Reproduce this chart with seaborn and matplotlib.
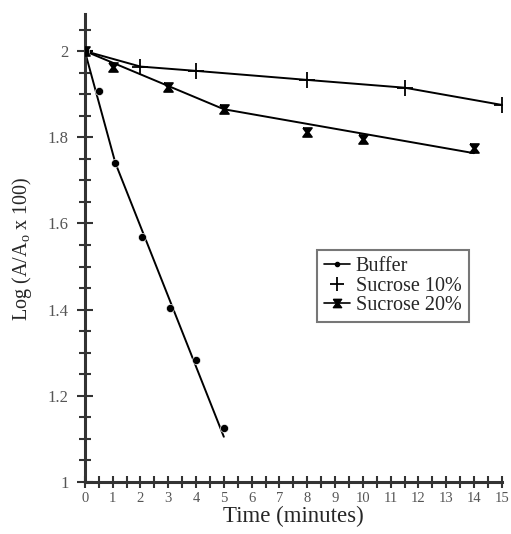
import numpy as np
import pandas as pd
import matplotlib
matplotlib.use("Agg")
import matplotlib.pyplot as plt
from matplotlib.lines import Line2D
import seaborn as sns

sns.set_style("ticks")
plt.rcParams["font.family"] = ["Liberation Serif", "DejaVu Serif"]

# data
buffer_t = [0, 0.5, 1.1, 2.05, 3.05, 4, 5]
buffer_y = [2.0, 1.907, 1.74, 1.568, 1.404, 1.283, 1.125]
buffer_fit_t = [0, 1.1, 5]
buffer_fit_y = [2.0, 1.74, 1.105]

suc10_t = [0, 2, 4, 8, 11.5, 15]
suc10_y = [2.0, 1.964, 1.954, 1.933, 1.915, 1.875]

suc20_t = [0, 1, 3, 5, 8, 10, 14]
suc20_y = [2.0, 1.964, 1.916, 1.865, 1.813, 1.795, 1.774]
suc20_fit_t = [0, 5, 14]
suc20_fit_y = [2.0, 1.865, 1.763]

# hourglass-like marker for Sucrose 20%
hourglass = [(-1, 1), (1, 1), (0.25, 0), (1, -1), (-1, -1), (-0.25, 0), (-1, 1)]

fig = plt.figure(figsize=(5.11, 5.34), dpi=100)
ax = fig.add_axes([0.166, 0.0974, 0.816, 0.8756])

# lines
sns.lineplot(x=buffer_fit_t, y=buffer_fit_y, color="black", lw=1.4, ax=ax)
sns.lineplot(x=suc10_t, y=suc10_y, color="black", lw=1.4, ax=ax, marker="+",
             markersize=11, markeredgewidth=1.3, markeredgecolor="black")
sns.lineplot(x=suc20_fit_t, y=suc20_fit_y, color="black", lw=1.4, ax=ax)

# points
sns.scatterplot(x=buffer_t, y=buffer_y, color="black", s=34, marker="o", ax=ax, zorder=3)
sns.scatterplot(x=suc20_t, y=suc20_y, color="black", s=42, marker=hourglass,
                edgecolor="black", linewidth=1.2, ax=ax, zorder=3)

ax.set_xlim(0, 15)
ax.set_ylim(1, 2.085)
ax.set_xticks(np.arange(0, 16, 1))
ax.set_xticks(np.arange(0, 15.01, 0.5), minor=True)
ax.set_yticks([1, 1.2, 1.4, 1.6, 1.8, 2])
ax.set_yticklabels(["1", "1.2", "1.4", "1.6", "1.8", "2"])
ax.set_yticks(np.arange(1, 2.06, 0.05), minor=True)
ax.tick_params(axis="both", which="both", direction="inout", color="#333333", width=1.5)
ax.tick_params(axis="y", which="major", length=11, labelsize=12, labelcolor="#555555", pad=6)
ax.tick_params(axis="y", which="minor", length=8)
ax.tick_params(axis="x", which="both", length=8, labelsize=10.5, labelcolor="#555555", pad=3)

for side in ["top", "right"]:
    ax.spines[side].set_visible(False)
for side in ["left", "bottom"]:
    ax.spines[side].set_linewidth(2.2)
    ax.spines[side].set_color("#333333")

ax.set_xlabel("Time (minutes)", fontsize=16.5, labelpad=1)
ax.set_ylabel("Log (A/A$_\\mathregular{o}$ x 100)", fontsize=14.5, labelpad=10)

handles = [
    Line2D([], [], color="black", lw=1.2, marker="o", markersize=3),
    Line2D([], [], color="black", lw=0, marker="+", markersize=10, markeredgewidth=1.3),
    Line2D([], [], color="black", lw=1.2, marker=hourglass, markersize=6),
]
leg = ax.legend(handles, ["Buffer", "Sucrose 10%", "Sucrose 20%"],
                loc="upper left", bbox_to_anchor=(0.556, 0.496), fontsize=14.5,
                frameon=True, fancybox=False, handlelength=1.3, handletextpad=0.3,
                borderpad=0.35, labelspacing=0.02, borderaxespad=0)
leg.get_frame().set_edgecolor("#555555")
leg.get_frame().set_linewidth(1.5)

fig.savefig("out.png", dpi=100)
